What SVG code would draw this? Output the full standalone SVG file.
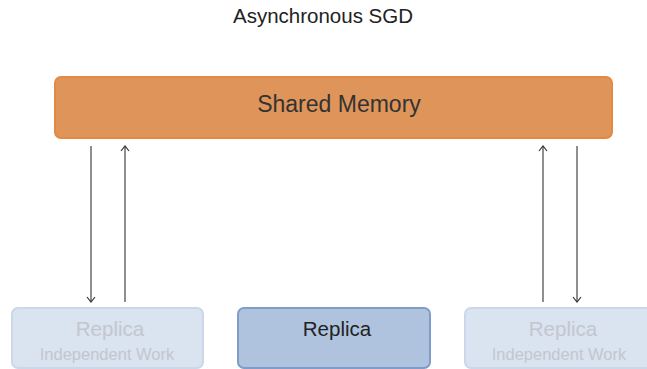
<svg xmlns="http://www.w3.org/2000/svg" width="647" height="369" viewBox="0 0 647 369">
<defs>
<marker id="ah" markerWidth="10" markerHeight="10" refX="9" refY="5" orient="auto" markerUnits="userSpaceOnUse" viewBox="0 0 10 10">
<path d="M4,1 L9,5 L4,9" fill="none" stroke="#333" stroke-width="1.2"/>
</marker>
<style>
text{font-family:"Liberation Sans",Arial,sans-serif;text-anchor:middle}
.conn line{stroke:#333;stroke-width:1.1}
.faded rect{fill:#dae3f0;stroke:#cbd8ea;stroke-width:2}
.faded text{fill:#c3c7cd}
</style>
</defs>
<rect width="647" height="369" fill="#fff"/>
<text x="323" y="23" font-size="20.5" fill="#222">Asynchronous SGD</text>
<g id="shared">
<rect x="55" y="77" width="557" height="61" rx="6" fill="#df955a" stroke="#e28a44" stroke-width="2"/>
<text x="339" y="112" font-size="23" fill="#333">Shared Memory</text>
</g>
<g id="replica1" class="faded">
<rect x="12" y="308" width="191" height="60" rx="6"/>
<text x="110" y="336" font-size="20.5">Replica</text>
<text x="107" y="360" font-size="16.5">Independent Work</text>
</g>
<g id="replica2">
<rect x="238" y="308" width="192" height="60" rx="6" fill="#afc3df" stroke="#7f9dc8" stroke-width="2"/>
<text x="337" y="336" font-size="20.5" fill="#222">Replica</text>
</g>
<g id="replica3" class="faded">
<rect x="465" y="308" width="191" height="60" rx="6"/>
<text x="563" y="336" font-size="20.5">Replica</text>
<text x="559" y="360" font-size="16.5">Independent Work</text>
</g>
<g class="conn">
<line x1="91" y1="146" x2="91" y2="302" marker-end="url(#ah)"/>
<line x1="125" y1="302" x2="125" y2="146" marker-end="url(#ah)"/>
<line x1="543" y1="302" x2="543" y2="146" marker-end="url(#ah)"/>
<line x1="577" y1="146" x2="577" y2="302" marker-end="url(#ah)"/>
</g>
</svg>
